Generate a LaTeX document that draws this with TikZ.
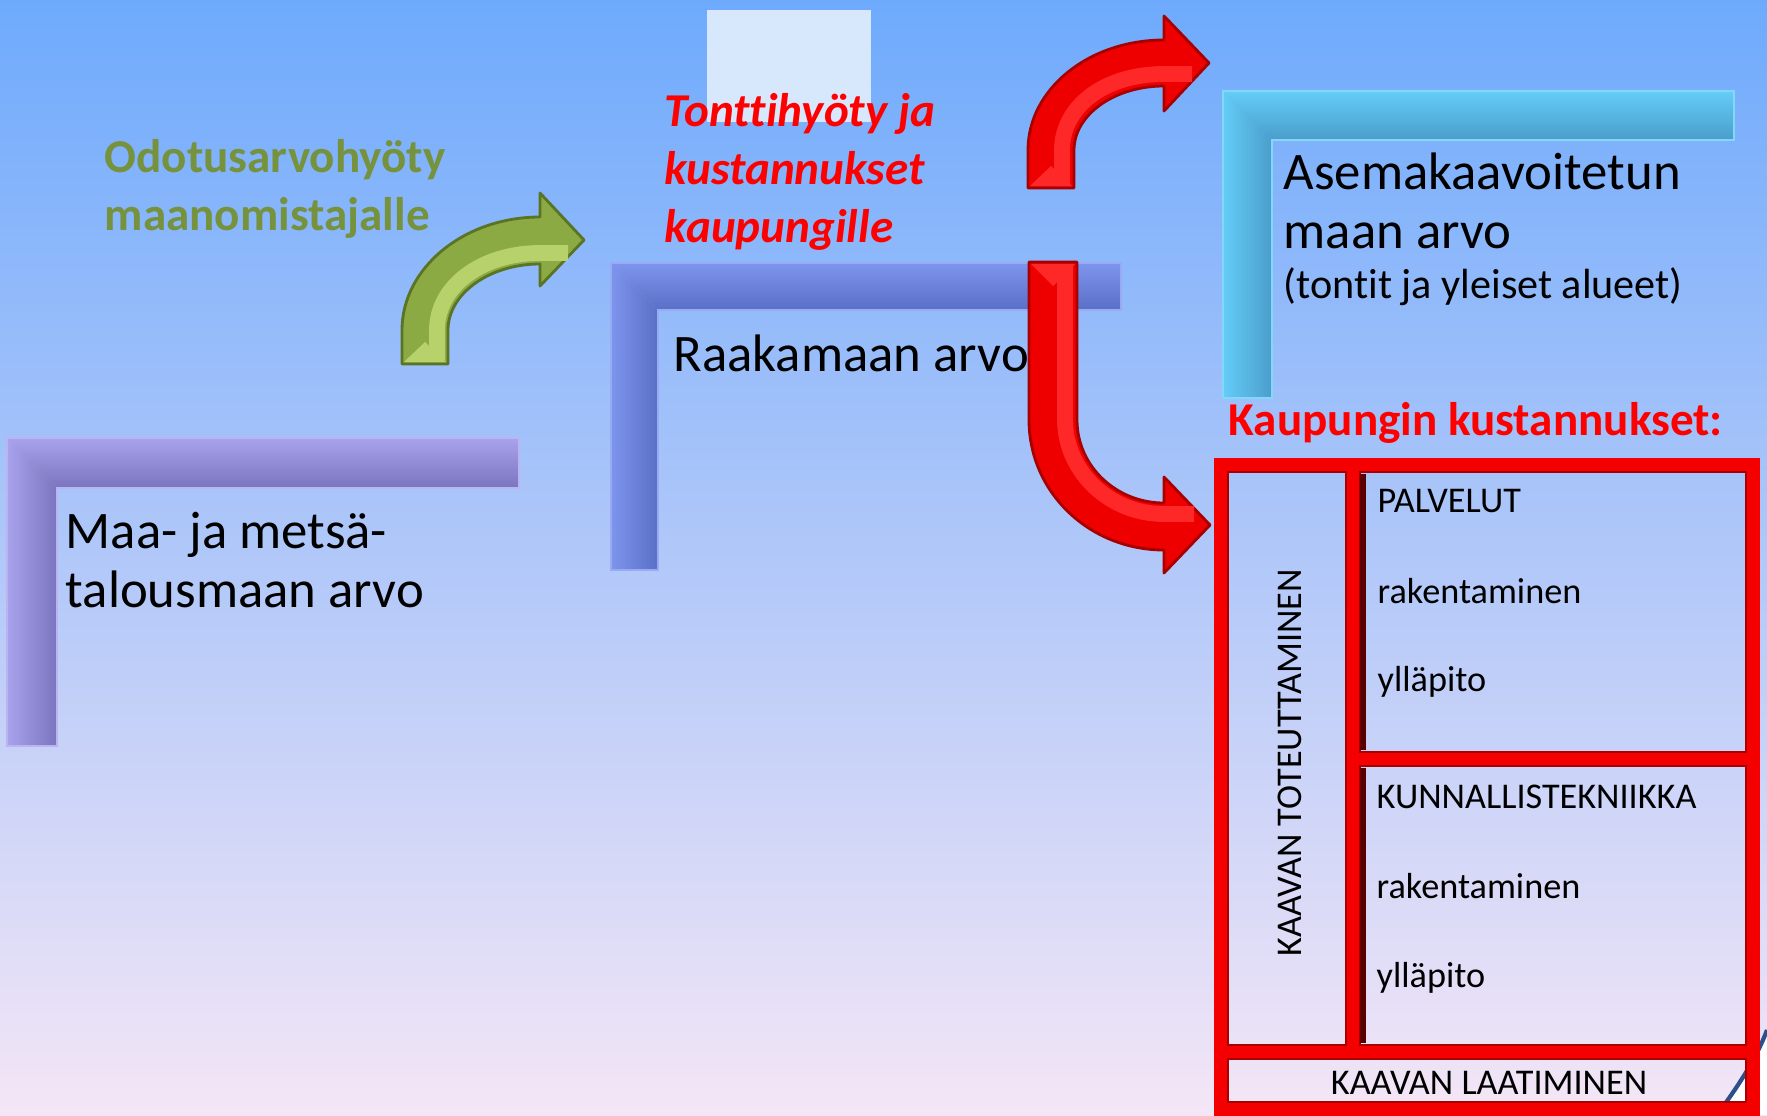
\documentclass[tikz,border=0pt]{standalone}
\usepackage{fontspec}
\setmainfont{Carlito}[Ligatures={NoCommon,NoContextual,NoRare}]
\usepackage{tikz}

\definecolor{bgtop}{HTML}{6EAAFC}
\definecolor{bgmid}{HTML}{B2CFF1}
\definecolor{bgbot}{HTML}{F4E6F6}
\definecolor{lightbox}{HTML}{D7E7FC}
\definecolor{purlight}{HTML}{A9A2EC}
\definecolor{purdark}{HTML}{7A75BE}
\definecolor{bluelight}{HTML}{7E95EE}
\definecolor{bluedark}{HTML}{5A6FC6}
\definecolor{cyanlight}{HTML}{64CDF8}
\definecolor{cyandark}{HTML}{4A9DCA}
\definecolor{greenfill}{HTML}{8CAA44}
\definecolor{greenhi}{HTML}{B7D26A}
\definecolor{greenline}{HTML}{5A7424}
\definecolor{greentxt}{HTML}{76923C}
\definecolor{arrowred}{HTML}{EE0000}
\definecolor{redhi}{HTML}{FF2828}
\definecolor{darkred}{HTML}{A80000}
\definecolor{framered}{HTML}{F40000}
\definecolor{shadowred}{HTML}{5A0000}
\definecolor{navyline}{HTML}{2E4F8A}

\tikzset{
  bigtext/.style={anchor=base west, inner sep=0pt, font=\fontsize{15}{18}\selectfont},
  smalltext/.style={anchor=base west, inner sep=0pt, font=\fontsize{12}{14}\selectfont},
  redtext/.style={anchor=base west, inner sep=0pt, text=red, font=\fontsize{13.4}{16}\selectfont\bfseries\itshape},
  redhead/.style={anchor=base west, inner sep=0pt, text=red, font=\fontsize{13.4}{16}\selectfont\bfseries},
  greentext/.style={anchor=base west, inner sep=0pt, text=greentxt, font=\fontsize{13.4}{16}\selectfont\bfseries},
  boxtext/.style={anchor=base west, inner sep=0pt, font=\fontsize{10.3}{12}\selectfont},
  redframe/.style={draw=framered, line width=4pt},
  framebevel/.style={draw=darkred, line width=0.7pt},
  redarrow/.style={fill=arrowred, draw=darkred, line width=0.8pt, line join=round},
}

\begin{document}
\begin{tikzpicture}[x=0.01cm, y=-0.01cm]
    \useasboundingbox (0,0) rectangle (1767,1115);
    \shade[top color=bgtop, middle color=bgmid, bottom color=bgbot] (0,0) rectangle (1767,1115);

    % pale box behind the red title
    \fill[lightbox] (707,10) rectangle (871,122);

    % purple L
    \shade[top color=purlight, bottom color=purdark] (7,438) -- (519,438) -- (519,488) -- (57,488) -- cycle;
    \shade[left color=purlight, right color=purdark] (7,438) -- (57,488) -- (57,746) -- (7,746) -- cycle;
    \draw[purlight!80!white, line width=0.6pt] (7,438) -- (519,438) -- (519,488) -- (57,488) -- (57,746) -- (7,746) -- cycle;

    % blue L
    \shade[top color=bluelight, bottom color=bluedark] (611,263) -- (1121,263) -- (1121,310) -- (658,310) -- cycle;
    \shade[left color=bluelight, right color=bluedark] (611,263) -- (658,310) -- (658,570) -- (611,570) -- cycle;
    \draw[bluelight!80!white, line width=0.6pt] (611,263) -- (1121,263) -- (1121,310) -- (658,310) -- (658,570) -- (611,570) -- cycle;

    % cyan L
    \shade[top color=cyanlight, bottom color=cyandark] (1223,91) -- (1734,91) -- (1734,140) -- (1272,140) -- cycle;
    \shade[left color=cyanlight, right color=cyandark] (1223,91) -- (1272,140) -- (1272,398) -- (1223,398) -- cycle;
    \draw[cyanlight!80!white, line width=0.6pt] (1223,91) -- (1734,91) -- (1734,140) -- (1272,140) -- (1272,398) -- (1223,398) -- cycle;

    % green arrow
    \draw[fill=greenfill, draw=greenline, line width=0.8pt, line join=round]
        (402,364) -- (402,330) .. controls (402,268) and (464,217) .. (540,217)
        -- (540,193) -- (584,240) -- (540,286) -- (540,264)
        .. controls (489,264) and (448,294) .. (448,330) -- (448,364) -- cycle;
    \draw[greenhi, line width=4.5pt] (437,360) -- (437,330) .. controls (437,286) and (482,253) .. (540,253) -- (568,253);
    \fill[greenhi] (404,362) -- (425,342) -- (446,362) -- cycle;

    % red arrows
    \draw[redarrow]
        (1028,188) -- (1028,150) .. controls (1028,89) and (1089,40) .. (1164,40)
        -- (1164,16) -- (1209,63) -- (1164,111) -- (1164,86)
        .. controls (1114,86) and (1074,115) .. (1074,150) -- (1074,188) -- cycle;
    \draw[redhi, line width=4.5pt] (1062,186) -- (1062,150) .. controls (1062,107) and (1104,74) .. (1164,74) -- (1192,74);
    \fill[redhi] (1030,186) -- (1051,166) -- (1072,186) -- cycle;
    \draw[redarrow]
        (1029,262) -- (1029,420) .. controls (1029,492) and (1089,550) .. (1164,550)
        -- (1164,573) -- (1210,525) -- (1164,477) -- (1164,503)
        .. controls (1116,503) and (1077,466) .. (1077,420) -- (1077,262) -- cycle;
    \draw[redhi, line width=4.5pt] (1065,264) -- (1065,420) .. controls (1065,470) and (1108,514) .. (1164,514) -- (1194,514);
    \fill[redhi] (1031,264) -- (1053,286) -- (1075,264) -- cycle;

    % corner decoration
    \fill[white] (1717,1115) .. controls (1735,1090) and (1755,1062) .. (1767,1030) -- (1767,1115) -- cycle;
    \draw[navyline, line width=1.2pt] (1717,1115) .. controls (1735,1090) and (1755,1062) .. (1767,1030);

    % red frames
    \draw[redframe] (1221,465) rectangle (1353,1052);
    \draw[redframe] (1353,465) rectangle (1753,759);
    \draw[redframe] (1353,759) rectangle (1753,1052);
    \draw[redframe] (1221,1052) rectangle (1753,1109);
    \draw[framebevel] (1228,472) rectangle (1346,1045);
    \draw[framebevel] (1360,472) rectangle (1746,752);
    \draw[framebevel] (1360,766) rectangle (1746,1045);
    \draw[framebevel] (1228,1059) rectangle (1746,1102);
    \draw[shadowred, line width=1.7pt] (1363,474) -- (1363,750);
    \draw[shadowred, line width=1.7pt] (1363,768) -- (1363,1043);

    % texts
    \node[bigtext] (maa1) at (65,548) {Maa- ja metsä-};
    \node[bigtext] (maa2) at (65,607) {talousmaan arvo};
    \node[bigtext] (raaka) at (673,371) {Raakamaan arvo};
    \node[bigtext] (asema1) at (1283,189) {Asemakaavoitetun};
    \node[bigtext] (asema2) at (1283,248) {maan arvo};
    \node[smalltext] (asema3) at (1283,298) {(tontit ja yleiset alueet)};

    \node[greentext] (odotus1) at (104,172) {Odotusarvohyöty};
    \node[greentext] (odotus2) at (104,230) {maanomistajalle};

    \node[redtext] (tontti1) at (664,126) {Tonttihyöty ja};
    \node[redtext] (tontti2) at (664,184) {kustannukset};
    \node[redtext] (tontti3) at (664,242) {kaupungille};

    \node[redhead] (kaup) at (1228,435) {Kaupungin kustannukset:};

    \node[boxtext] (palv) at (1377,512) {PALVELUT};
    \node[boxtext] (palvrak) at (1377,603) {rakentaminen};
    \node[boxtext] (palvyll) at (1377,691) {ylläpito};
    \node[boxtext] (kunn) at (1376,808) {KUNNALLISTEKNIIKKA};
    \node[boxtext] (kunnrak) at (1376,898) {rakentaminen};
    \node[boxtext] (kunnyll) at (1376,987) {ylläpito};
    \node[boxtext, anchor=base] (laat) at (1489,1094) {KAAVAN LAATIMINEN};
    \node[boxtext, anchor=base, rotate=90] (toteutt) at (1301,763) {KAAVAN TOTEUTTAMINEN};
\end{tikzpicture}
\end{document}
